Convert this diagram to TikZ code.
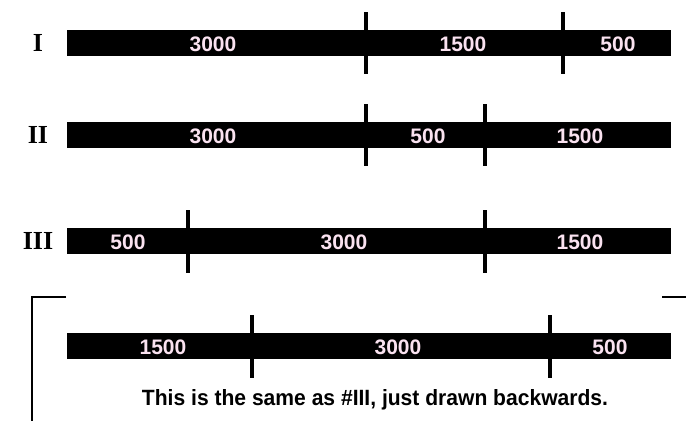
\documentclass[tikz,border=0pt]{standalone}
\usepackage{fontspec}
\setmainfont{Liberation Serif}
\setsansfont{Liberation Sans}
\definecolor{lbl}{RGB}{250,226,240}
\begin{document}
\begin{tikzpicture}[x=1pt,y=-1pt,
  bar/.style={fill=black,draw=none,minimum width=604pt,minimum height=26pt,inner sep=0pt,anchor=west},
  num/.style={text=lbl,font=\sffamily\bfseries\fontsize{21}{24}\selectfont,inner sep=0pt},
  roman/.style={font=\rmfamily\bfseries\fontsize{26}{28}\selectfont,inner sep=0pt},
  tick/.style={line width=4.5pt},
  brk/.style={line width=1.5pt}]
\useasboundingbox (0,0) rectangle (686,421);
% Row I
\node[roman] (r1) at (38,43) {I};
\node[bar] (b1) at (67,43) {};
\node[num] (n11) at (213,44) {3000};
\node[num] (n12) at (463,44) {1500};
\node[num] (n13) at (618,44) {500};
\coordinate (t11a) at (366,12); \coordinate (t11b) at (366,74);
\coordinate (t12a) at (563,12); \coordinate (t12b) at (563,74);
\draw[tick] (t11a) -- (t11b);
\draw[tick] (t12a) -- (t12b);
% Row II
\node[roman] (r2) at (38,135) {II};
\node[bar] (b2) at (67,135) {};
\node[num] (n21) at (213,136) {3000};
\node[num] (n22) at (428,136) {500};
\node[num] (n23) at (580,136) {1500};
\coordinate (t21a) at (366,104); \coordinate (t21b) at (366,166);
\coordinate (t22a) at (485,104); \coordinate (t22b) at (485,166);
\draw[tick] (t21a) -- (t21b);
\draw[tick] (t22a) -- (t22b);
% Row III
\node[roman] (r3) at (38,241) {III};
\node[bar] (b3) at (67,241) {};
\node[num] (n31) at (128,242) {500};
\node[num] (n32) at (344,242) {3000};
\node[num] (n33) at (580,242) {1500};
\coordinate (t31a) at (188,210); \coordinate (t31b) at (188,273);
\coordinate (t32a) at (485,210); \coordinate (t32b) at (485,273);
\draw[tick] (t31a) -- (t31b);
\draw[tick] (t32a) -- (t32b);
% Row IV (backwards)
\node[bar] (b4) at (67,346) {};
\node[num] (n41) at (163,347) {1500};
\node[num] (n42) at (398,347) {3000};
\node[num] (n43) at (610,347) {500};
\coordinate (t41a) at (252,315); \coordinate (t41b) at (252,378);
\coordinate (t42a) at (550,315); \coordinate (t42b) at (550,378);
\draw[tick] (t41a) -- (t41b);
\draw[tick] (t42a) -- (t42b);
\node[inner sep=0pt] (cap) at (375,400) {\resizebox{466pt}{16pt}{\sffamily\bfseries This is the same as \#III, just drawn backwards.}};
% bracket
\coordinate (bl1) at (66,297); \coordinate (bl2) at (32,297); \coordinate (bl3) at (32,421);
\coordinate (br1) at (662,297); \coordinate (br2) at (686,297);
\draw[brk] (bl1) -- (bl2) -- (bl3);
\draw[brk] (br1) -- (br2);
\end{tikzpicture}
\end{document}
